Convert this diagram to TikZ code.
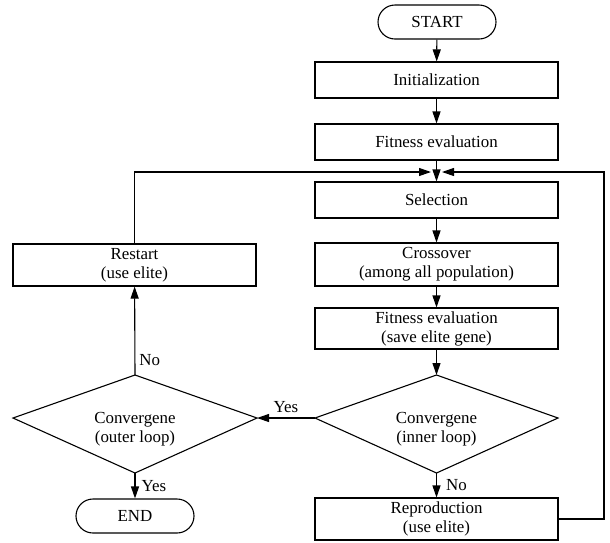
\documentclass[tikz,border=0pt]{standalone}
\usepackage{fontspec}
\setmainfont{Liberation Serif}
\usetikzlibrary{arrows.meta}
\begin{document}
\begin{tikzpicture}[x=1pt,y=-1pt,
  every node/.style={font=\fontsize{16.9}{19}\selectfont},
  box/.style={draw, line width=1.1pt, minimum width=243pt, inner sep=0pt, align=center},
  term/.style={draw, line width=1.1pt, rounded corners=17pt, minimum width=118pt, minimum height=34pt, inner sep=0pt},
  line/.style={line width=1.1pt},
  arr/.style={line, -{Triangle[length=12pt,width=8pt]}},
  lbl/.style={inner sep=0pt},
  kite/.style={line, line join=miter}
]
\useasboundingbox (0,0) rectangle (610,542);

% right column
\node[term] (start) at (437,22) {START};
\node[box, minimum height=36pt] (init) at (436.5,80) {Initialization};
\node[box, minimum height=36pt] (fit1) at (436.5,142) {Fitness evaluation};
\node[box, minimum height=36pt] (sel) at (436.5,200) {Selection};
\node[box, minimum height=43pt] (cross) at (436.5,264.5) {Crossover\\(among all population)};
\node[box, minimum height=41pt] (fit2) at (436.5,328.5) {Fitness evaluation\\(save elite gene)};
\node[box, minimum height=42pt] (repro) at (436.5,519) {Reproduction\\(use elite)};

% inner diamond
\coordinate (d1t) at (436.5,375);
\coordinate (d1l) at (315,418);
\coordinate (d1r) at (558,418);
\coordinate (d1b) at (436.5,473);
\draw[kite] (d1t) -- (d1r) -- (d1b) -- (d1l) -- cycle;
\node[align=center, inner sep=0pt] (d1) at (436.5,429) {Convergene\\(inner loop)};

% left column
\node[box, minimum height=42pt] (restart) at (134.5,265) {Restart\\(use elite)};
\coordinate (d2t) at (135,375);
\coordinate (d2l) at (13,418);
\coordinate (d2r) at (257,418);
\coordinate (d2b) at (135,473);
\draw[kite] (d2t) -- (d2r) -- (d2b) -- (d2l) -- cycle;
\node[align=center, inner sep=0pt] (d2) at (135,429) {Convergene\\(outer loop)};
\node[term] (end) at (135,516) {END};

% merge point
\coordinate (ml) at (431,172);
\coordinate (mr) at (442,172);
\coordinate (rc) at (604,172);

% connectors
\draw[arr] (start) -- (init);
\draw[arr] (init) -- (fit1);
\draw[arr] (fit1) -- (sel);
\draw[arr] (sel) -- (cross);
\draw[arr] (cross) -- (fit2);
\draw[arr] (fit2) -- (d1t);
\draw[arr] (d1b) -- node[lbl, right=9pt] {No} (repro);
\draw[arr] (d1l) -- node[lbl, above=5pt] {Yes} (d2r);
\draw[arr] (d2b) -- node[lbl, right=6pt] {Yes} (end);
\draw[arr] (d2t) -- node[lbl, right=4pt, pos=0.17] {No} (restart);
\draw[arr] (restart.north) |- (ml);
\draw[arr] (repro.east) -| (rc) -- (mr);
\end{tikzpicture}
\end{document}
